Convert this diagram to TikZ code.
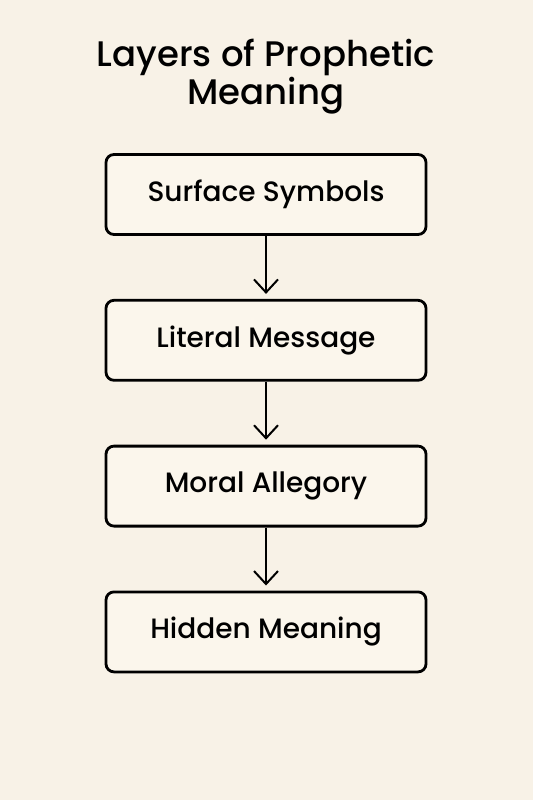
\documentclass[tikz,border=0pt]{standalone}
\usepackage{fontspec}
\setmainfont{Poppins}[BoldFont={* Medium}]
\usetikzlibrary{positioning,arrows.meta}
\definecolor{paper}{HTML}{F8F2E7}
\definecolor{boxfill}{HTML}{FBF6EC}
\tikzset{
  layer/.style={draw=black, fill=boxfill, line width=2.8pt, rounded corners=8pt,
    minimum width=320pt, minimum height=80pt, font=\bfseries\fontsize{28}{32}\selectfont},
  flow/.style={line width=2pt, shorten >=5pt,
    -{Straight Barb[length=13pt, width=24pt, line width=2pt]}}
}
\begin{document}
\begin{tikzpicture}[x=1pt,y=1pt, node distance=63pt]
  \fill[paper] (0,0) rectangle (533,-800);
  \useasboundingbox (0,0) rectangle (533,-800);
  \node[font=\bfseries\fontsize{35.5}{38}\selectfont, align=center] (title) at (266,-77) {Layers of Prophetic\\Meaning};
  \node[layer] (surface) at (266,-194.5) {Surface Symbols};
  \node[layer, below=of surface] (literal) {Literal Message};
  \node[layer, below=of literal] (moral) {Moral Allegory};
  \node[layer, below=of moral] (hidden) {Hidden Meaning};
  \draw[flow] (surface) -- (literal);
  \draw[flow] (literal) -- (moral);
  \draw[flow] (moral) -- (hidden);
\end{tikzpicture}
\end{document}
